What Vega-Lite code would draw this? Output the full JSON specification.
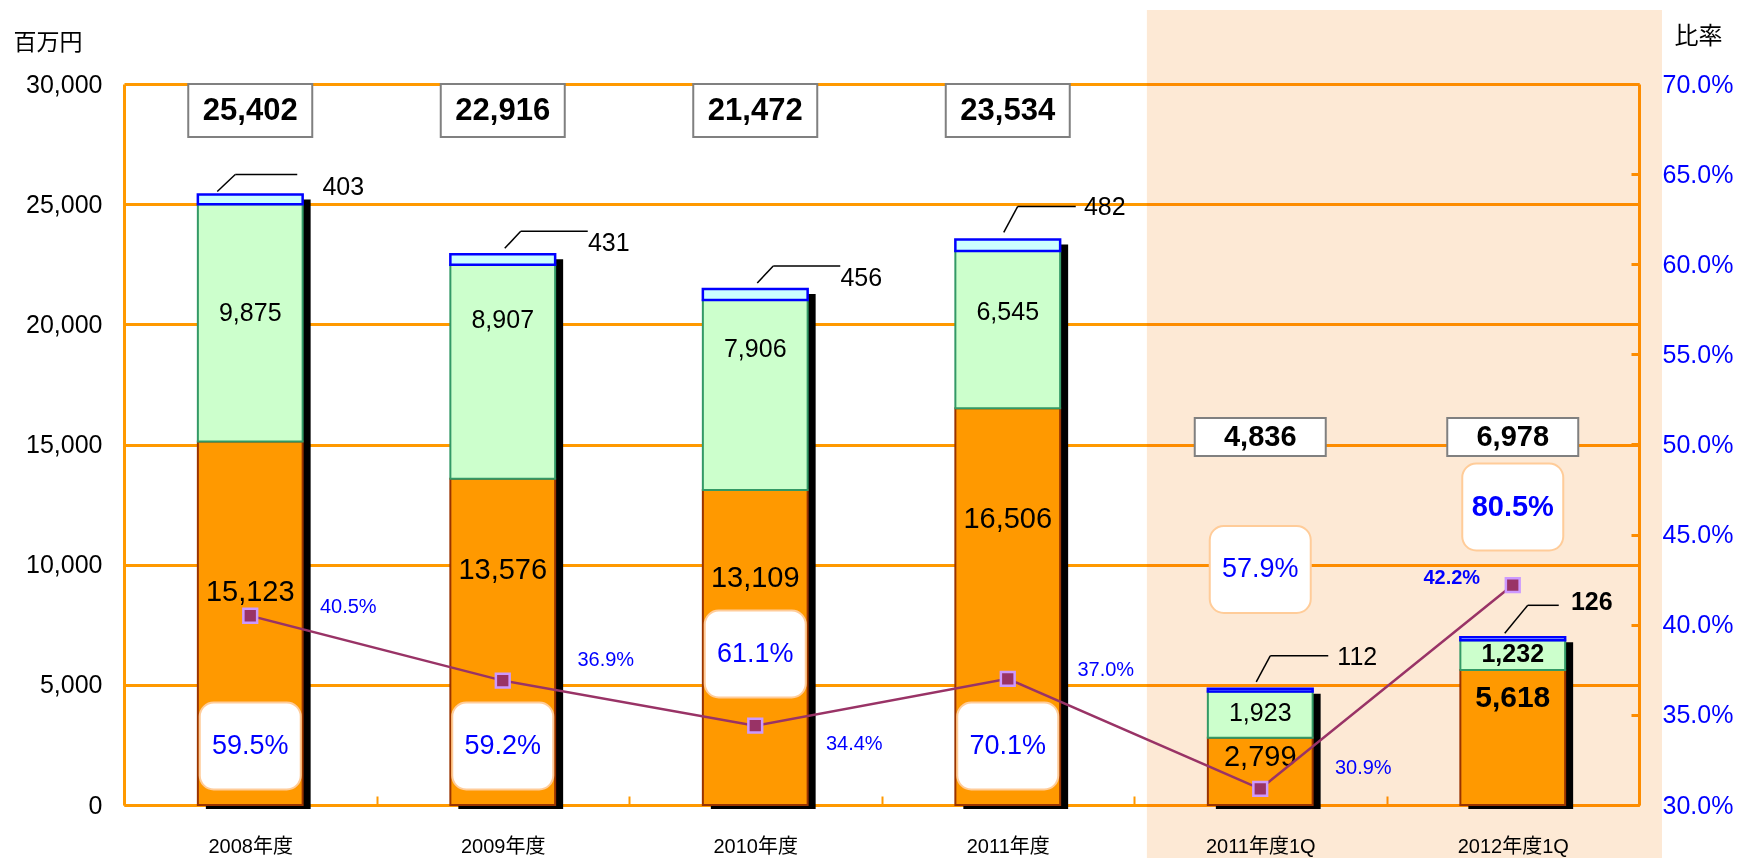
{
  "$schema": "https://vega.github.io/schema/vega-lite/v6.json",
  "width": 1515,
  "height": 721,
  "autosize": {"type": "none"},
  "padding": {"left": 124, "top": 84, "right": 100, "bottom": 53},
  "background": "white",
  "config": {"view": {"stroke": null}, "font": "Liberation Sans, Noto Sans CJK JP, sans-serif"},
  "datasets": {
    "seg": [
      {"cat": "2008年度", "seg": "orange", "order": 1, "value": 15123},
      {"cat": "2008年度", "seg": "green", "order": 2, "value": 9875},
      {"cat": "2008年度", "seg": "cyan", "order": 3, "value": 403},
      {"cat": "2009年度", "seg": "orange", "order": 1, "value": 13576},
      {"cat": "2009年度", "seg": "green", "order": 2, "value": 8907},
      {"cat": "2009年度", "seg": "cyan", "order": 3, "value": 431},
      {"cat": "2010年度", "seg": "orange", "order": 1, "value": 13109},
      {"cat": "2010年度", "seg": "green", "order": 2, "value": 7906},
      {"cat": "2010年度", "seg": "cyan", "order": 3, "value": 456},
      {"cat": "2011年度", "seg": "orange", "order": 1, "value": 16506},
      {"cat": "2011年度", "seg": "green", "order": 2, "value": 6545},
      {"cat": "2011年度", "seg": "cyan", "order": 3, "value": 482},
      {"cat": "2011年度1Q", "seg": "orange", "order": 1, "value": 2799},
      {"cat": "2011年度1Q", "seg": "green", "order": 2, "value": 1923},
      {"cat": "2011年度1Q", "seg": "cyan", "order": 3, "value": 112},
      {"cat": "2012年度1Q", "seg": "orange", "order": 1, "value": 5618},
      {"cat": "2012年度1Q", "seg": "green", "order": 2, "value": 1232},
      {"cat": "2012年度1Q", "seg": "cyan", "order": 3, "value": 126}
    ],
    "sum": [
      {"cat": "2008年度", "total": 25402, "ratio": 0.405, "share": 0.595},
      {"cat": "2009年度", "total": 22916, "ratio": 0.369, "share": 0.592},
      {"cat": "2010年度", "total": 21472, "ratio": 0.344, "share": 0.611},
      {"cat": "2011年度", "total": 23534, "ratio": 0.370, "share": 0.701},
      {"cat": "2011年度1Q", "total": 4836, "ratio": 0.309, "share": 0.579},
      {"cat": "2012年度1Q", "total": 6978, "ratio": 0.422, "share": 0.805}
    ]
  },
  "layer": [
    {
      "data": {"values": [{}]},
      "mark": {"type": "rect", "fill": "#FDE9D5", "blend": "multiply", "clip": false},
      "encoding": {
        "x": {"datum": 4.051, "type": "quantitative", "scale": {"domain": [0, 6], "nice": false, "zero": false}, "axis": null},
        "x2": {"datum": 6.091},
        "y": {"datum": 33079, "type": "quantitative", "scale": {"domain": [0, 30000], "nice": false}, "axis": null},
        "y2": {"datum": -2500}
      }
    },
    {
      "layer": [
        {
          "data": {"name": "sum"},
          "mark": {"type": "bar", "color": "#000000", "width": {"band": 0.415}, "xOffset": 8, "yOffset": 5, "y2Offset": 4},
          "encoding": {
            "x": {
              "field": "cat", "type": "nominal", "sort": null,
              "scale": {"domain": ["2008年度", "2009年度", "2010年度", "2011年度", "2011年度1Q", "2012年度1Q"], "paddingInner": 0, "paddingOuter": 0},
              "axis": {"title": null, "labelAngle": 0, "domainColor": "#FF9900", "domainWidth": 3, "tickColor": "#FF9900", "tickWidth": 2, "tickSize": -9, "tickBand": "extent", "labelFontSize": 20, "labelColor": "#000000", "labelPadding": 40, "grid": false}
            },
            "y": {
              "field": "total", "type": "quantitative",
              "scale": {"domain": [0, 30000], "nice": false},
              "axis": {"orient": "left", "title": "百万円", "titleAngle": 0, "titleAlign": "left", "titleBaseline": "middle", "titleX": -111, "titleY": -42, "titleFontSize": 23, "titleFont": "Noto Sans CJK JP", "titleFontWeight": "normal", "titleColor": "#000000", "values": [0, 5000, 10000, 15000, 20000, 25000, 30000], "labelExpr": "format(datum.value, ',')", "labelFontSize": 25, "labelColor": "#000000", "labelPadding": 22, "ticks": false, "tickSize": 0, "domainColor": "#FF9900", "domainWidth": 3, "grid": true, "gridColor": "#FF9900", "gridWidth": 3, "gridOpacity": 1}
            },
            "y2": {"datum": 0}
          }
        },
        {
          "data": {"name": "seg"},
          "mark": {"type": "bar", "width": {"band": 0.415}},
          "encoding": {
            "x": {"field": "cat", "type": "nominal", "sort": null},
            "y": {"field": "value", "type": "quantitative", "stack": "zero"},
            "order": {"field": "order"},
            "fill": {"field": "seg", "type": "nominal", "scale": {"domain": ["orange", "green", "cyan"], "range": ["#FF9900", "#CCFFCC", "#CCFFFF"]}, "legend": null},
            "stroke": {"condition": [{"test": "datum.seg === 'cyan'", "value": "#0000FF"}, {"test": "datum.seg === 'green'", "value": "#339966"}], "value": "#993300"},
            "strokeWidth": {"condition": {"test": "datum.seg === 'cyan'", "value": 2.5}, "value": 2}
          }
        },
        {
          "data": {"name": "sum"},
          "transform": [{"filter": {"field": "cat", "oneOf": ["2008年度", "2009年度", "2010年度", "2011年度"]}}],
          "layer": [
            {
              "mark": {"type": "bar", "width": 124, "fill": "white", "stroke": "#808080", "strokeWidth": 2},
              "encoding": {"x": {"field": "cat", "type": "nominal", "sort": null}, "y": {"datum": 30000, "type": "quantitative"}, "y2": {"datum": 27795}}
            },
            {
              "mark": {"type": "text", "fontSize": 31, "fontWeight": "bold", "color": "#000000", "baseline": "middle"},
              "encoding": {"x": {"field": "cat", "type": "nominal", "sort": null}, "y": {"datum": 28897, "type": "quantitative"}, "text": {"field": "total", "type": "quantitative", "format": ","}}
            }
          ]
        },
        {
          "data": {"name": "sum"},
          "transform": [{"filter": {"field": "cat", "oneOf": ["2011年度1Q", "2012年度1Q"]}}],
          "layer": [
            {
              "mark": {"type": "bar", "width": 131, "fill": "white", "stroke": "#808080", "strokeWidth": 2},
              "encoding": {"x": {"field": "cat", "type": "nominal", "sort": null}, "y": {"datum": 16103, "type": "quantitative"}, "y2": {"datum": 14522}}
            },
            {
              "mark": {"type": "text", "fontSize": 29, "fontWeight": "bold", "color": "#000000", "baseline": "middle"},
              "encoding": {"x": {"field": "cat", "type": "nominal", "sort": null}, "y": {"datum": 15312, "type": "quantitative"}, "text": {"field": "total", "type": "quantitative", "format": ","}}
            }
          ]
        },
        {
          "data": {"name": "sum"},
          "transform": [{"filter": {"field": "cat", "oneOf": ["2008年度", "2009年度", "2011年度"]}}],
          "layer": [
            {
              "mark": {"type": "bar", "width": 101, "fill": "white", "stroke": "#FFCC99", "strokeWidth": 2, "cornerRadius": 14},
              "encoding": {"x": {"field": "cat", "type": "nominal", "sort": null}, "y": {"datum": 4265, "type": "quantitative"}, "y2": {"datum": 645}}
            },
            {
              "mark": {"type": "text", "fontSize": 27, "color": "#0000FF", "baseline": "middle"},
              "encoding": {"x": {"field": "cat", "type": "nominal", "sort": null}, "y": {"datum": 2455, "type": "quantitative"}, "text": {"field": "share", "type": "quantitative", "format": ".1%"}}
            }
          ]
        },
        {
          "data": {"name": "sum"},
          "transform": [{"filter": {"field": "cat", "oneOf": ["2010年度"]}}],
          "layer": [
            {
              "mark": {"type": "bar", "width": 101, "fill": "white", "stroke": "#FFCC99", "strokeWidth": 2, "cornerRadius": 14},
              "encoding": {"x": {"field": "cat", "type": "nominal", "sort": null}, "y": {"datum": 8093, "type": "quantitative"}, "y2": {"datum": 4473}}
            },
            {
              "mark": {"type": "text", "fontSize": 27, "color": "#0000FF", "baseline": "middle"},
              "encoding": {"x": {"field": "cat", "type": "nominal", "sort": null}, "y": {"datum": 6283, "type": "quantitative"}, "text": {"field": "share", "type": "quantitative", "format": ".1%"}}
            }
          ]
        },
        {
          "data": {"name": "sum"},
          "transform": [{"filter": {"field": "cat", "oneOf": ["2011年度1Q"]}}],
          "layer": [
            {
              "mark": {"type": "bar", "width": 101, "fill": "white", "stroke": "#FFCC99", "strokeWidth": 2, "cornerRadius": 14},
              "encoding": {"x": {"field": "cat", "type": "nominal", "sort": null}, "y": {"datum": 11609, "type": "quantitative"}, "y2": {"datum": 7989}}
            },
            {
              "mark": {"type": "text", "fontSize": 27, "color": "#0000FF", "baseline": "middle"},
              "encoding": {"x": {"field": "cat", "type": "nominal", "sort": null}, "y": {"datum": 9799, "type": "quantitative"}, "text": {"field": "share", "type": "quantitative", "format": ".1%"}}
            }
          ]
        },
        {
          "data": {"name": "sum"},
          "transform": [{"filter": {"field": "cat", "oneOf": ["2012年度1Q"]}}],
          "layer": [
            {
              "mark": {"type": "bar", "width": 101, "fill": "white", "stroke": "#FFCC99", "strokeWidth": 2, "cornerRadius": 14},
              "encoding": {"x": {"field": "cat", "type": "nominal", "sort": null}, "y": {"datum": 14210, "type": "quantitative"}, "y2": {"datum": 10590}}
            },
            {
              "mark": {"type": "text", "fontSize": 29, "fontWeight": "bold", "color": "#0000FF", "baseline": "middle"},
              "encoding": {"x": {"field": "cat", "type": "nominal", "sort": null}, "y": {"datum": 12400, "type": "quantitative"}, "text": {"field": "share", "type": "quantitative", "format": ".1%"}}
            }
          ]
        },
        {
          "data": {"name": "seg"},
          "transform": [{"filter": {"field": "cat", "oneOf": ["2009年度", "2010年度", "2011年度", "2011年度1Q"]}}],
          "mark": {"type": "text", "fontSize": 29, "color": "#000000", "baseline": "middle"},
          "encoding": {
            "x": {"field": "cat", "type": "nominal", "sort": null},
            "y": {"field": "value", "type": "quantitative", "stack": "zero", "bandPosition": 0.72},
            "detail": {"field": "seg"},
            "order": {"field": "order"},
            "text": {"condition": {"test": "datum.seg === 'orange'", "field": "value", "type": "quantitative", "format": ","}, "value": ""}
          }
        },
        {
          "data": {"name": "seg"},
          "transform": [{"filter": {"field": "cat", "oneOf": ["2008年度"]}}],
          "mark": {"type": "text", "fontSize": 29, "color": "#000000", "baseline": "middle"},
          "encoding": {
            "x": {"field": "cat", "type": "nominal", "sort": null},
            "y": {"field": "value", "type": "quantitative", "stack": "zero", "bandPosition": 0.586},
            "detail": {"field": "seg"},
            "order": {"field": "order"},
            "text": {"condition": {"test": "datum.seg === 'orange'", "field": "value", "type": "quantitative", "format": ","}, "value": ""}
          }
        },
        {
          "data": {"name": "seg"},
          "transform": [{"filter": {"field": "cat", "oneOf": ["2012年度1Q"]}}],
          "mark": {"type": "text", "fontSize": 30, "fontWeight": "bold", "color": "#000000", "baseline": "middle"},
          "encoding": {
            "x": {"field": "cat", "type": "nominal", "sort": null},
            "y": {"field": "value", "type": "quantitative", "stack": "zero", "bandPosition": 0.795},
            "detail": {"field": "seg"},
            "order": {"field": "order"},
            "text": {"condition": {"test": "datum.seg === 'orange'", "field": "value", "type": "quantitative", "format": ","}, "value": ""}
          }
        },
        {
          "data": {"name": "seg"},
          "transform": [{"filter": {"field": "cat", "oneOf": ["2008年度", "2011年度1Q"]}}],
          "mark": {"type": "text", "fontSize": 25, "color": "#000000", "baseline": "middle"},
          "encoding": {
            "x": {"field": "cat", "type": "nominal", "sort": null},
            "y": {"field": "value", "type": "quantitative", "stack": "zero", "bandPosition": 0.54},
            "detail": {"field": "seg"},
            "order": {"field": "order"},
            "text": {"condition": {"test": "datum.seg === 'green'", "field": "value", "type": "quantitative", "format": ","}, "value": ""}
          }
        },
        {
          "data": {"name": "seg"},
          "transform": [{"filter": {"field": "cat", "oneOf": ["2009年度", "2010年度"]}}],
          "mark": {"type": "text", "fontSize": 25, "color": "#000000", "baseline": "middle"},
          "encoding": {
            "x": {"field": "cat", "type": "nominal", "sort": null},
            "y": {"field": "value", "type": "quantitative", "stack": "zero", "bandPosition": 0.74},
            "detail": {"field": "seg"},
            "order": {"field": "order"},
            "text": {"condition": {"test": "datum.seg === 'green'", "field": "value", "type": "quantitative", "format": ","}, "value": ""}
          }
        },
        {
          "data": {"name": "seg"},
          "transform": [{"filter": {"field": "cat", "oneOf": ["2011年度"]}}],
          "mark": {"type": "text", "fontSize": 25, "color": "#000000", "baseline": "middle"},
          "encoding": {
            "x": {"field": "cat", "type": "nominal", "sort": null},
            "y": {"field": "value", "type": "quantitative", "stack": "zero", "bandPosition": 0.615},
            "detail": {"field": "seg"},
            "order": {"field": "order"},
            "text": {"condition": {"test": "datum.seg === 'green'", "field": "value", "type": "quantitative", "format": ","}, "value": ""}
          }
        },
        {
          "data": {"name": "seg"},
          "transform": [{"filter": {"field": "cat", "oneOf": ["2012年度1Q"]}}],
          "mark": {"type": "text", "fontSize": 25, "fontWeight": "bold", "color": "#000000", "baseline": "middle"},
          "encoding": {
            "x": {"field": "cat", "type": "nominal", "sort": null},
            "y": {"field": "value", "type": "quantitative", "stack": "zero", "bandPosition": 0.54},
            "detail": {"field": "seg"},
            "order": {"field": "order"},
            "text": {"condition": {"test": "datum.seg === 'green'", "field": "value", "type": "quantitative", "format": ","}, "value": ""}
          }
        },
        {
          "data": {"name": "sum"},
          "transform": [{"filter": {"field": "cat", "oneOf": ["2008年度"]}}],
          "layer": [
            {
              "mark": {"type": "rule", "color": "#000000", "strokeWidth": 1.5, "xOffset": -33, "yOffset": -3, "x2Offset": -15, "y2Offset": -20},
              "encoding": {"x": {"field": "cat", "type": "nominal", "sort": null}, "x2": {"field": "cat"}, "y": {"field": "total", "type": "quantitative"}, "y2": {"field": "total"}}
            },
            {
              "mark": {"type": "rule", "color": "#000000", "strokeWidth": 1.5, "xOffset": -15, "yOffset": -20, "x2Offset": 47, "y2Offset": -20},
              "encoding": {"x": {"field": "cat", "type": "nominal", "sort": null}, "x2": {"field": "cat"}, "y": {"field": "total", "type": "quantitative"}, "y2": {"field": "total"}}
            }
          ]
        },
        {
          "data": {"name": "sum"},
          "transform": [{"filter": {"field": "cat", "oneOf": ["2009年度", "2010年度"]}}],
          "layer": [
            {
              "mark": {"type": "rule", "color": "#000000", "strokeWidth": 1.5, "xOffset": 2, "yOffset": -6, "x2Offset": 18, "y2Offset": -23},
              "encoding": {"x": {"field": "cat", "type": "nominal", "sort": null}, "x2": {"field": "cat"}, "y": {"field": "total", "type": "quantitative"}, "y2": {"field": "total"}}
            },
            {
              "mark": {"type": "rule", "color": "#000000", "strokeWidth": 1.5, "xOffset": 18, "yOffset": -23, "x2Offset": 85, "y2Offset": -23},
              "encoding": {"x": {"field": "cat", "type": "nominal", "sort": null}, "x2": {"field": "cat"}, "y": {"field": "total", "type": "quantitative"}, "y2": {"field": "total"}}
            }
          ]
        },
        {
          "data": {"name": "sum"},
          "transform": [{"filter": {"field": "cat", "oneOf": ["2011年度", "2011年度1Q"]}}],
          "layer": [
            {
              "mark": {"type": "rule", "color": "#000000", "strokeWidth": 1.5, "xOffset": -4, "yOffset": -7, "x2Offset": 10, "y2Offset": -33},
              "encoding": {"x": {"field": "cat", "type": "nominal", "sort": null}, "x2": {"field": "cat"}, "y": {"field": "total", "type": "quantitative"}, "y2": {"field": "total"}}
            },
            {
              "mark": {"type": "rule", "color": "#000000", "strokeWidth": 1.5, "xOffset": 10, "yOffset": -33, "x2Offset": 68, "y2Offset": -33},
              "encoding": {"x": {"field": "cat", "type": "nominal", "sort": null}, "x2": {"field": "cat"}, "y": {"field": "total", "type": "quantitative"}, "y2": {"field": "total"}}
            }
          ]
        },
        {
          "data": {"name": "sum"},
          "transform": [{"filter": {"field": "cat", "oneOf": ["2012年度1Q"]}}],
          "layer": [
            {
              "mark": {"type": "rule", "color": "#000000", "strokeWidth": 1.5, "xOffset": -8, "yOffset": -4, "x2Offset": 15, "y2Offset": -32},
              "encoding": {"x": {"field": "cat", "type": "nominal", "sort": null}, "x2": {"field": "cat"}, "y": {"field": "total", "type": "quantitative"}, "y2": {"field": "total"}}
            },
            {
              "mark": {"type": "rule", "color": "#000000", "strokeWidth": 1.5, "xOffset": 15, "yOffset": -32, "x2Offset": 46, "y2Offset": -32},
              "encoding": {"x": {"field": "cat", "type": "nominal", "sort": null}, "x2": {"field": "cat"}, "y": {"field": "total", "type": "quantitative"}, "y2": {"field": "total"}}
            }
          ]
        },
        {
          "data": {"name": "seg"},
          "transform": [{"filter": {"field": "cat", "oneOf": ["2008年度"]}}],
          "mark": {"type": "text", "fontSize": 25, "color": "#000000", "baseline": "middle", "dx": 93, "dy": -8},
          "encoding": {
            "x": {"field": "cat", "type": "nominal", "sort": null},
            "y": {"field": "value", "type": "quantitative", "stack": "zero"},
            "detail": {"field": "seg"},
            "order": {"field": "order"},
            "text": {"condition": {"test": "datum.seg === 'cyan'", "field": "value", "type": "quantitative", "format": ","}, "value": ""}
          }
        },
        {
          "data": {"name": "seg"},
          "transform": [{"filter": {"field": "cat", "oneOf": ["2009年度", "2010年度"]}}],
          "mark": {"type": "text", "fontSize": 25, "color": "#000000", "baseline": "middle", "dx": 106, "dy": -11},
          "encoding": {
            "x": {"field": "cat", "type": "nominal", "sort": null},
            "y": {"field": "value", "type": "quantitative", "stack": "zero"},
            "detail": {"field": "seg"},
            "order": {"field": "order"},
            "text": {"condition": {"test": "datum.seg === 'cyan'", "field": "value", "type": "quantitative", "format": ","}, "value": ""}
          }
        },
        {
          "data": {"name": "seg"},
          "transform": [{"filter": {"field": "cat", "oneOf": ["2011年度", "2011年度1Q"]}}],
          "mark": {"type": "text", "fontSize": 25, "color": "#000000", "baseline": "middle", "dx": 97, "dy": -32},
          "encoding": {
            "x": {"field": "cat", "type": "nominal", "sort": null},
            "y": {"field": "value", "type": "quantitative", "stack": "zero"},
            "detail": {"field": "seg"},
            "order": {"field": "order"},
            "text": {"condition": {"test": "datum.seg === 'cyan'", "field": "value", "type": "quantitative", "format": ","}, "value": ""}
          }
        },
        {
          "data": {"name": "seg"},
          "transform": [{"filter": {"field": "cat", "oneOf": ["2012年度1Q"]}}],
          "mark": {"type": "text", "fontSize": 25, "fontWeight": "bold", "color": "#000000", "baseline": "middle", "dx": 79, "dy": -35},
          "encoding": {
            "x": {"field": "cat", "type": "nominal", "sort": null},
            "y": {"field": "value", "type": "quantitative", "stack": "zero"},
            "detail": {"field": "seg"},
            "order": {"field": "order"},
            "text": {"condition": {"test": "datum.seg === 'cyan'", "field": "value", "type": "quantitative", "format": ","}, "value": ""}
          }
        }
      ]
    },
    {
      "data": {"name": "sum"},
      "layer": [
        {
          "mark": {"type": "line", "color": "#993366", "strokeWidth": 2.5},
          "encoding": {
            "x": {"field": "cat", "type": "nominal", "sort": null, "scale": {"domain": ["2008年度", "2009年度", "2010年度", "2011年度", "2011年度1Q", "2012年度1Q"], "paddingInner": 0, "paddingOuter": 0}, "axis": null},
            "y": {
              "field": "ratio", "type": "quantitative",
              "scale": {"domain": [0.3, 0.7], "nice": false, "zero": false},
              "axis": {"orient": "right", "title": "比率", "titleAngle": 0, "titleAlign": "left", "titleBaseline": "middle", "titleX": 35, "titleY": -48, "titleFontSize": 24, "titleFont": "Noto Sans CJK JP", "titleFontWeight": "normal", "titleColor": "#000000", "values": [0.3, 0.35, 0.4, 0.45, 0.5, 0.55, 0.6, 0.65, 0.7], "labelExpr": "format(datum.value, '.1%')", "labelFontSize": 25, "labelColor": "#0000FF", "labelPadding": 31, "tickSize": -8, "tickColor": "#FF9900", "tickWidth": 3, "domainColor": "#FF9900", "domainWidth": 3, "grid": false}
            }
          }
        },
        {
          "mark": {"type": "point", "shape": "square", "filled": true, "fill": "#993366", "stroke": "#CC99FF", "strokeWidth": 2.5, "size": 190, "opacity": 1},
          "encoding": {"x": {"field": "cat", "type": "nominal", "sort": null}, "y": {"field": "ratio", "type": "quantitative"}}
        },
        {
          "transform": [{"filter": {"field": "cat", "oneOf": ["2008年度", "2011年度"]}}],
          "mark": {"type": "text", "fontSize": 20, "color": "#0000FF", "baseline": "middle", "dx": 98, "dy": -9},
          "encoding": {"x": {"field": "cat", "type": "nominal", "sort": null}, "y": {"field": "ratio", "type": "quantitative"}, "text": {"field": "ratio", "type": "quantitative", "format": ".1%"}}
        },
        {
          "transform": [{"filter": {"field": "cat", "oneOf": ["2009年度", "2011年度1Q"]}}],
          "mark": {"type": "text", "fontSize": 20, "color": "#0000FF", "baseline": "middle", "dx": 103, "dy": -21},
          "encoding": {"x": {"field": "cat", "type": "nominal", "sort": null}, "y": {"field": "ratio", "type": "quantitative"}, "text": {"field": "ratio", "type": "quantitative", "format": ".1%"}}
        },
        {
          "transform": [{"filter": {"field": "cat", "oneOf": ["2010年度"]}}],
          "mark": {"type": "text", "fontSize": 20, "color": "#0000FF", "baseline": "middle", "dx": 99, "dy": 18},
          "encoding": {"x": {"field": "cat", "type": "nominal", "sort": null}, "y": {"field": "ratio", "type": "quantitative"}, "text": {"field": "ratio", "type": "quantitative", "format": ".1%"}}
        },
        {
          "transform": [{"filter": {"field": "cat", "oneOf": ["2012年度1Q"]}}],
          "mark": {"type": "text", "fontSize": 20, "fontWeight": "bold", "color": "#0000FF", "baseline": "middle", "dx": -61, "dy": -7},
          "encoding": {"x": {"field": "cat", "type": "nominal", "sort": null}, "y": {"field": "ratio", "type": "quantitative"}, "text": {"field": "ratio", "type": "quantitative", "format": ".1%"}}
        }
      ]
    }
  ],
  "resolve": {"scale": {"x": "independent", "y": "independent"}}
}
